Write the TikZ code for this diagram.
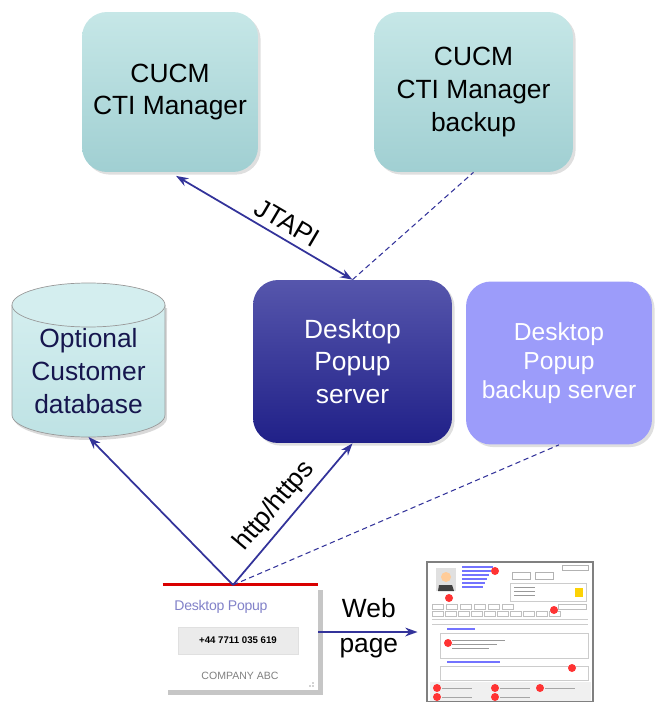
\documentclass[tikz,border=0pt]{standalone}
\usepackage{fontspec}
\setmainfont{Liberation Sans}
\usetikzlibrary{arrows.meta,shadows}

\definecolor{ctitop}{HTML}{C6E7E7}
\definecolor{ctibot}{HTML}{A0CFD2}
\definecolor{srvtop}{HTML}{5656AC}
\definecolor{srvbot}{HTML}{202088}
\definecolor{baksrv}{HTML}{9C9CFA}
\definecolor{link}{HTML}{33339A}
\definecolor{dbfill}{HTML}{BEE2E4}
\definecolor{dbtop}{HTML}{D4EEEF}
\definecolor{dbtext}{HTML}{16164E}

\tikzset{
  box/.style={rounded corners=0.5cm, align=center, inner sep=0pt,
    drop shadow={opacity=0.25, shadow xshift=1.5pt, shadow yshift=-1.5pt}},
  ctibox/.style={box, top color=ctitop, bottom color=ctibot,
    minimum height=3.2cm, font=\fontsize{15}{18.7}\selectfont},
  srvbox/.style={box, top color=srvtop, bottom color=srvbot, text=white,
    minimum width=3.98cm, minimum height=3.26cm, font=\fontsize{15}{18.7}\selectfont},
  bakbox/.style={box, fill=baksrv, text=white,
    minimum width=3.72cm, minimum height=3.26cm, font=\fontsize{14}{16.4}\selectfont},
  conn/.style={link, line width=1pt, -{Stealth[length=7pt,width=5pt]}},
  backup/.style={link, line width=0.6pt, dash pattern=on 3pt off 2pt},
  lbl/.style={text=black, font=\fontsize{15}{20}\selectfont, align=center}
}

\begin{document}
\begin{tikzpicture}[x=0.02cm, y=-0.02cm]
  \useasboundingbox (0,0) rectangle (654,702);

  % call managers
  \node[ctibox, minimum width=3.52cm] (cti) at (170,92) {CUCM\\CTI Manager};
  \node[ctibox, minimum width=3.98cm] (ctibak) at (473.5,92) {CUCM\\CTI Manager\\backup};

  % servers
  \node[srvbox] (server) at (352.5,361.5) {Desktop\\Popup\\server};
  \node[bakbox] (bakserver) at (559,363) {Desktop\\Popup\\backup server};

  % customer database
  \fill[black, opacity=0.15] (14,308) -- (14,418) arc (180:360:1.53cm and 0.44cm) -- (167,308) -- cycle;
  \draw[gray!80, top color=dbtop, bottom color=dbfill] (12,305) -- (12,415)
    arc (180:360:1.53cm and 0.44cm) -- (165,305);
  \draw[gray!80, fill=dbtop] (88.5,305) ellipse (1.53cm and 0.44cm);
  \node[align=center, text=dbtext, font=\fontsize{15}{18.7}\selectfont] (db) at (88.5,371)
    {Optional\\Customer\\database};
  \coordinate (dbbot) at (88.5,437);

  % desktop popup window
  \node[fill=white, minimum width=3.1cm, minimum height=2.1cm, inner sep=0pt,
    drop shadow={opacity=0.45, shadow xshift=3pt, shadow yshift=-3pt}] (popup) at (240.5,637.5) {};
  \draw[red!85!black, line width=1.6pt] (popup.north west) -- (popup.north east);
  \node[text=gray!60!blue!70, font=\fontsize{8}{9}\selectfont\addfontfeatures{LetterSpace=-2}] (poptitle) at (221,607) {Desktop Popup};
  \node[fill=black!8, draw=black!12, minimum width=2.4cm, minimum height=0.54cm,
    font=\fontsize{5.5}{6}\selectfont\bfseries] (popnum) at (238,640.5) {+44 7711 035 619};
  \node[text=gray, font=\fontsize{6}{7}\selectfont] (popco) at (240,676) {COMPANY ABC};
  \foreach \dx/\dy in {0/0,-3/0,0/-3} \fill[gray!70] (313+\dx,686+\dy) circle (0.5pt);
  \coordinate (src) at (233,585);

  % web page screenshot
  \node[draw=gray, line width=0.8pt, fill=white, minimum width=3.32cm, minimum height=2.8cm,
    inner sep=0pt] (web) at (510,632) {};
  \fill[black!12] (436,568) rectangle (456,591);
  \fill[black!75] (438,591) -- (439,585) -- (452,585) -- (454,591) -- cycle;
  \fill[orange!40!white] (446,577) circle (0.1cm);
  \foreach \i in {0,...,5} \draw[blue!55, line width=0.6pt] (462,567+\i*4) -- (493-\i*2,567+\i*4);
  \draw[black!30] (512,572) rectangle (530,579) (535,572) rectangle (553,579);
  \draw[black!20] (510,583) rectangle (586,601);
  \foreach \i in {0,1,2} \draw[black!40, line width=0.4pt] (514,587+\i*4) -- (535,587+\i*4);
  \fill[yellow!70!orange] (575,588) rectangle (583,597);
  \draw[black!30] (562,565) rectangle (588,570);
  \foreach \i in {0,...,5} \draw[black!25] (432+\i*14,604) rectangle (443+\i*14,609);
  \draw[black!25] (558,604) rectangle (586,609);
  \foreach \i in {0,...,9} \draw[black!25] (432+\i*13,611) rectangle (443+\i*13,616);
  \draw[black!20] (432,619) -- (588,619) (432,624) -- (588,624);
  \draw[blue!55, line width=0.6pt] (447,629) -- (475,629) (447,662) -- (500,662);
  \draw[black!20] (440,633) rectangle (588,658) (440,666) rectangle (588,680);
  \foreach \i in {0,1,2} \draw[black!40, line width=0.4pt] (452,640+\i*4) -- (505-\i*8,640+\i*4);
  \fill[black!6] (430,682) rectangle (591,701);
  \foreach \px/\py in {495/571,449/598,554/610,448/643,572/668,437/688,495/688,540/688,437/697,495/697}
    \fill[red!80] (\px,\py) circle (0.08cm);
  \foreach \px/\py in {442/688,500/688,545/688,442/697,500/697}
    \draw[black!35, line width=0.4pt] (\px,\py) -- (\px+30,\py);

  % connectors
  \draw[conn, {Stealth[length=7pt,width=5pt]}-{Stealth[length=7pt,width=5pt]}, shorten <=4pt]
    (cti.south) -- node[lbl, sloped, above, pos=0.6] {JTAPI} (server.north);
  \draw[backup] (server.north) -- (ctibak.south);
  \draw[conn] (src) -- (dbbot);
  \draw[conn] (src) -- node[lbl, sloped, above, pos=0.47] {http/https} (server.south);
  \draw[backup] (src) -- (bakserver.south);
  \draw[conn, shorten >=5pt] (popup.east |- web.west) -- node[lbl, xshift=-2pt, yshift=2pt] {Web\\page} (web.west);
\end{tikzpicture}
\end{document}
